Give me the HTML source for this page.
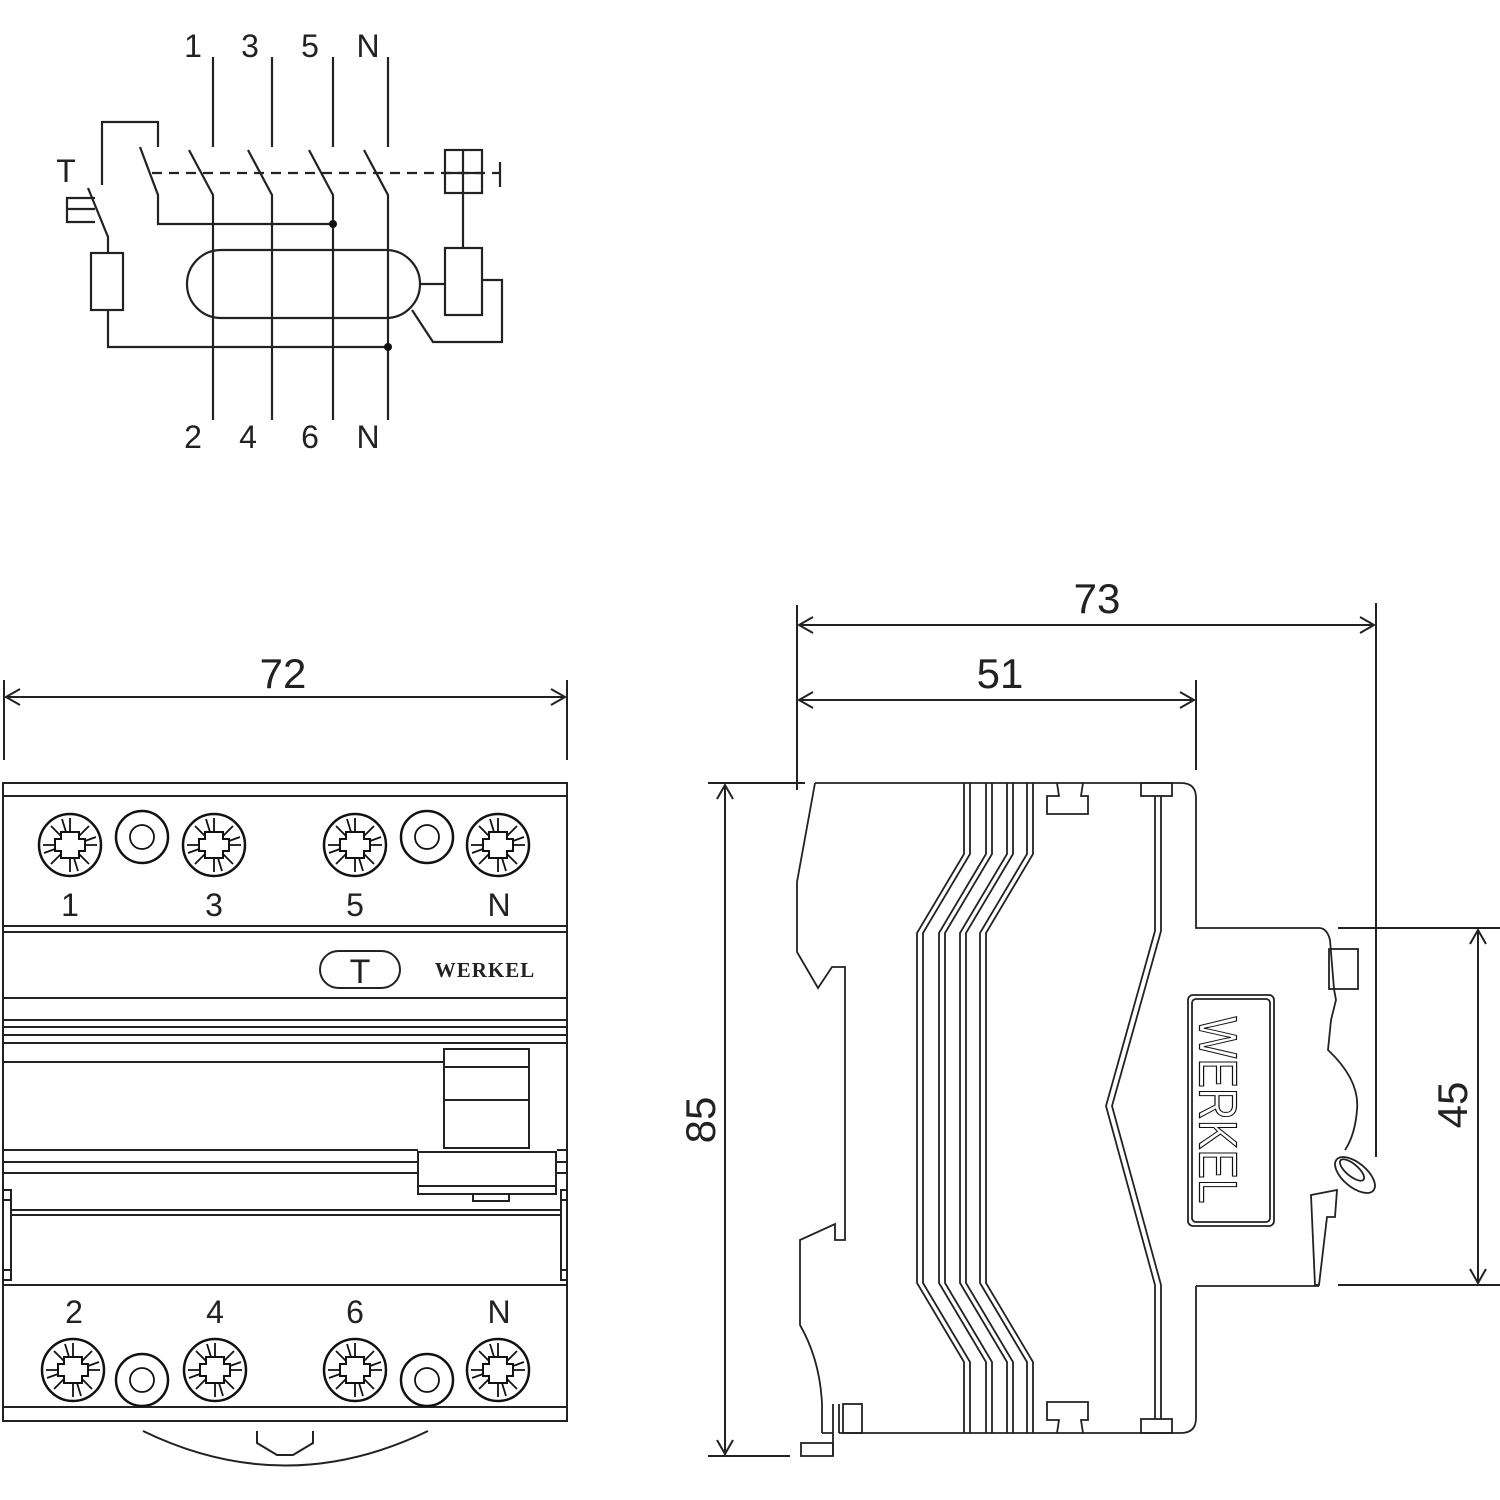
<!DOCTYPE html>
<html><head><meta charset="utf-8"><style>
html,body{margin:0;padding:0;background:#fff}
svg{display:block}
text{font-family:"Liberation Sans",sans-serif;fill:#222}
</style></head><body>
<svg width="1500" height="1500" viewBox="0 0 1500 1500" xmlns="http://www.w3.org/2000/svg">
<defs>
<g id="scr">
<circle r="31" fill="none" stroke="#111" stroke-width="2.5"/>
<path d="M-9,-6 L-9,-13 L9,-13 L9,-6 L15,-6 L15,6 L9,6 L9,13 L-9,13 L-9,6 L-15,6 L-15,-6 Z" fill="none" stroke="#111" stroke-width="2"/>
<path d="M0,-27 L0,-13 M0,13 L0,27 M-27,0 L-15,0 M15,0 L27,0 M-19,-19 L-9,-9 M19,-19 L9,-9 M-19,19 L-9,9 M19,19 L9,9 M-8,-26 L-4,-13 M8,26 L4,13 M26,-8 L15,-4 M-26,8 L-15,4" stroke="#111" stroke-width="1.8"/>
</g>
<g id="wsh">
<circle r="26" fill="none" stroke="#111" stroke-width="2.5"/>
<circle r="12" fill="none" stroke="#111" stroke-width="1.8"/>
</g>
</defs>
<g fill="none" stroke="#222" stroke-width="2.2">
<path d="M213,57V147 M272,57V147 M333,57V147 M388,57V147"/>
<path d="M189,150L213,195V420 M248,150L272,195V420 M309,150L333,195V420 M364,150L388,195V420"/>
<path d="M140,147L158,195V224H333"/>
<path d="M102,185V122H158V147"/>
<path d="M152,173H500" stroke-dasharray="10,7"/>
<path d="M500,162V187"/>
<rect x="445" y="150" width="37" height="43"/>
<path d="M463,150V248 M445,173H482"/>
<rect x="445" y="248" width="37" height="67"/>
<rect x="187" y="250" width="233" height="68" rx="34"/>
<path d="M420,284H445 M482,280H502V342H433L412,310"/>
<path d="M88,188L108,237V253"/>
<path d="M95,198H67V222H95 M67,209H95"/>
<rect x="91" y="253" width="32" height="57"/>
<path d="M108,310V347H388"/>
</g>
<circle cx="333" cy="224" r="4" fill="#111"/>
<circle cx="388" cy="347" r="4" fill="#111"/>
<g font-size="32" text-anchor="middle">
<text x="193" y="57">1</text><text x="250" y="57">3</text><text x="310" y="57">5</text><text x="368" y="57">N</text>
<text x="66" y="182">T</text>
<text x="193" y="448">2</text><text x="248" y="448">4</text><text x="310" y="448">6</text><text x="368" y="448">N</text>
</g>

<g fill="none" stroke="#222" stroke-width="2">
<path d="M4,680V760 M567,680V760 M6,697H565 M20,689L6,697L20,705 M551,689L565,697L551,705"/>
<path d="M797,605V790 M1376,603V1157 M1196,680V770"/>
<path d="M799,625H1374 M813,617L799,625L813,633 M1360,617L1374,625L1360,633"/>
<path d="M799,700H1194 M813,692L799,700L813,708 M1180,692L1194,700L1180,708"/>
<path d="M708,783H805 M708,1456H790 M725,785V1454 M717,799L725,785L733,799 M717,1440L725,1454L733,1440"/>
<path d="M1338,928H1500 M1338,1285H1500 M1478,930V1283 M1470,944L1478,930L1486,944 M1470,1269L1478,1283L1486,1269"/>
</g>
<g font-size="42" text-anchor="middle">
<text x="283" y="688">72</text>
<text x="1097" y="613">73</text>
<text x="1000" y="688">51</text>
<text transform="translate(715,1120) rotate(-90)">85</text>
<text transform="translate(1467,1105) rotate(-90)">45</text>
</g>

<g fill="none" stroke="#222" stroke-width="2">
<rect x="3" y="783" width="564" height="638"/>
<path d="M3,796H567 M3,926H567 M3,932H567 M3,998H567 M3,1020H567 M3,1027H567 M3,1035H567 M3,1043H567 M3,1062H444 M3,1150H418 M557,1150H567 M3,1162H418 M557,1162H567 M3,1173H418 M557,1173H567 M11,1210H561 M11,1215H561 M3,1285H567 M3,1407H567"/>
<rect x="444" y="1049" width="85" height="99"/>
<path d="M444,1067H529 M444,1100H529"/>
<rect x="418" y="1152" width="138" height="42"/>
<path d="M418,1186H556"/>
<rect x="473" y="1194" width="36" height="7"/>
<rect x="3" y="1190" width="8" height="90"/>
<rect x="561" y="1190" width="6" height="90"/>
<path d="M3,1200H11 M3,1270H11 M561,1200H567 M561,1270H567"/>
<path d="M143,1431Q285,1500 428,1431 M257,1431V1443L277,1455H293L313,1443V1431"/>
<rect x="320" y="951" width="80" height="37" rx="18.5"/>
</g>
<g font-size="34" text-anchor="middle">
<text x="360" y="983">T</text>
</g>
<text x="485" y="977" font-size="21" font-weight="bold" style="font-family:'Liberation Serif',serif" text-anchor="middle" letter-spacing="1">WERKEL</text>
<use href="#scr" x="70" y="845"/><use href="#wsh" x="142" y="837"/><use href="#scr" x="214" y="845"/>
<use href="#scr" x="355" y="845"/><use href="#wsh" x="427" y="837"/><use href="#scr" x="498" y="845"/>
<use href="#scr" x="73" y="1370"/><use href="#wsh" x="142" y="1380"/><use href="#scr" x="215" y="1370"/>
<use href="#scr" x="355" y="1370"/><use href="#wsh" x="427" y="1380"/><use href="#scr" x="498" y="1370"/>
<g font-size="32" text-anchor="middle">
<text x="70" y="916">1</text><text x="214" y="916">3</text><text x="355" y="916">5</text><text x="499" y="916">N</text>
<text x="74" y="1323">2</text><text x="215" y="1323">4</text><text x="355" y="1323">6</text><text x="499" y="1323">N</text>
</g>

<g fill="none" stroke="#222" stroke-width="1.8">
<path d="M815,783H1181Q1196,783 1196,798V928H1319Q1327,928 1330,940L1334,989L1336,1000L1331,1020L1328,1050Q1360,1080 1357,1110Q1355,1135 1345,1150"/>
<path d="M815,783L797,882V952L818,988L832,967H845V1240L835,1240V1224L800,1240V1325Q820,1360 822,1404V1433"/>
<path d="M1196,1286H1319 M1196,1286V1418Q1196,1433 1181,1433H839"/>
<rect x="801" y="1443" width="32" height="13"/>
<path d="M833,1404V1456 M839,1404V1433 M822,1433H833"/>
<rect x="843" y="1404" width="19" height="29"/>
<path d="M964,783V854L917,933V1283L964,1362V1433 M970,783V854L923,933V1283L970,1362V1433 M986,783V854L939,933V1283L986,1362V1433 M992,783V854L945,933V1283L992,1362V1433 M1007,783V854L960,933V1283L1007,1362V1433 M1013,783V854L966,933V1283L1013,1362V1433 M1027,783V854L980,933V1283L1027,1362V1433 M1033,783V854L986,933V1283L1033,1362V1433"/>
<path d="M1057,783L1059,796H1047V814H1088V796H1081L1083,783"/>
<path d="M1057,1433L1059,1420H1047V1402H1088V1420H1081L1083,1433"/>
<rect x="1141" y="783" width="31" height="13"/>
<rect x="1141" y="1419" width="31" height="14"/>
<path d="M1155,796V931L1106,1106L1155,1285V1419 M1161,796V931L1112,1106L1161,1285V1419"/>
<rect x="1329" y="949" width="29" height="40"/>
<rect x="1188" y="995" width="86" height="231" rx="5"/>
<rect x="1192" y="999" width="78" height="223" rx="4"/>
<path d="M1311,1195L1337,1190L1335,1217L1327,1217L1319,1285H1315Z"/>
<ellipse cx="1355" cy="1175" rx="24" ry="12" transform="rotate(40 1355 1175)"/>
<ellipse cx="1352" cy="1170" rx="15" ry="6" transform="rotate(40 1352 1170)"/>
</g>
<text transform="translate(1214,1110) rotate(90) scale(0.82,1)" font-size="54" text-anchor="middle" style="fill:#fff;stroke:#111;stroke-width:1.2" dominant-baseline="middle">WERKEL</text>
</svg>
</body></html>
